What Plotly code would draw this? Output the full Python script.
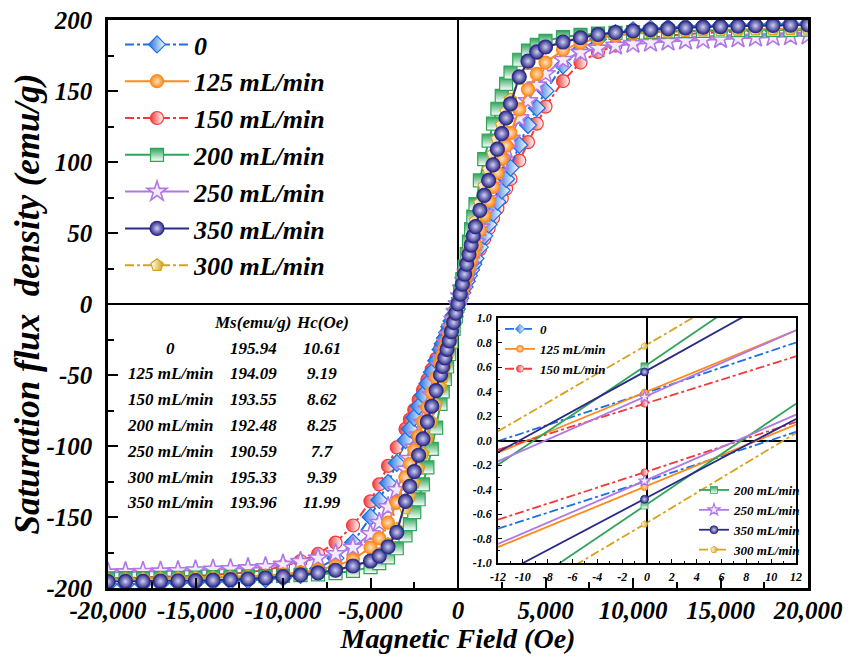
import plotly.graph_objects as go

# ---------------- data ----------------
FIELD_OE = [-20000, -19000, -18000, -17000, -16000, -15000, -14000, -13000, -12000, -11000,
            -10000, -9000, -8000, -7000, -6000, -5000, -4500, -4000, -3500, -3000,
            -2750, -2500, -2250, -2000, -1750, -1500, -1250, -1000, -875, -750,
            -625, -500, -375, -250, -125, 0, 125, 250, 375, 500,
            625, 750, 875, 1000, 1250, 1500, 1750, 2000, 2250, 2500,
            2750, 3000, 3500, 4000, 4500, 5000, 6000, 7000, 8000, 9000,
            10000, 11000, 12000, 13000, 14000, 15000, 16000, 17000, 18000, 19000, 20000]

M_0 = [-197.6, -197.4, -197.1, -196.8, -196.5, -196.1, -195.7, -195.2, -194.6, -193.8,
       -192.8, -190.8, -186.5, -179.0, -168.0, -150.0, -138.0, -126.0, -112.0, -96.0,
       -88.0, -80.0, -72.0, -64.0, -56.0, -48.0, -40.0, -32.0, -28.0, -24.0,
       -20.0, -16.0, -12.0, -8.0, -4.0, 0.0, 4.0, 8.0, 12.0, 16.0,
       20.0, 24.0, 28.0, 32.0, 40.0, 48.0, 56.0, 64.0, 72.0, 80.0,
       88.0, 96.0, 112.0, 126.0, 138.0, 150.0, 168.0, 179.0, 186.5, 190.8,
       192.8, 193.8, 194.6, 195.2, 195.7, 196.1, 196.5, 196.8, 197.1, 197.4, 197.6]

M_125 = [-194.0, -193.9, -193.7, -193.5, -193.3, -193.0, -192.7, -192.3, -191.8, -191.2,
         -190.3, -189.0, -187.2, -184.5, -180.0, -171.5, -165.0, -154.0, -140.0, -122.0,
         -112.5, -103.0, -93.0, -83.0, -72.8, -62.5, -52.0, -41.6, -36.4, -31.2,
         -26.0, -20.8, -15.6, -10.4, -5.2, 0.0, 5.2, 10.4, 15.6, 20.8,
         26.0, 31.2, 36.4, 41.6, 52.0, 62.3, 72.5, 82.5, 92.5, 102.2,
         111.5, 120.5, 137.0, 151.0, 162.0, 170.0, 179.0, 184.0, 187.0, 189.0,
         190.3, 191.2, 191.8, 192.3, 192.7, 193.0, 193.3, 193.5, 193.7, 193.9, 194.0]

M_150 = [-193.3, -193.0, -192.7, -192.3, -191.9, -191.4, -190.8, -190.0, -189.0, -187.3,
         -184.8, -181.0, -176.0, -168.0, -156.0, -139.0, -127.0, -114.0, -101.0, -88.0,
         -81.3, -74.5, -67.5, -60.5, -53.3, -46.0, -38.6, -31.2, -27.4, -23.6,
         -19.8, -16.0, -12.0, -8.0, -4.0, 0.0, 4.0, 8.0, 12.0, 16.0,
         19.8, 23.6, 27.4, 31.2, 38.6, 46.0, 53.3, 60.5, 67.5, 74.5,
         81.3, 88.0, 101.0, 114.0, 127.0, 139.0, 157.0, 170.0, 177.5, 182.0,
         185.0, 187.3, 189.0, 190.0, 190.8, 191.4, 191.9, 192.3, 192.7, 193.0, 193.3]

M_200 = [-193.2, -193.1, -193.0, -192.9, -192.8, -192.6, -192.4, -192.2, -192.0, -191.7,
         -191.4, -191.0, -190.4, -189.5, -188.0, -185.3, -182.5, -178.5, -172.0, -163.0,
         -155.0, -146.5, -137.5, -127.0, -115.0, -102.0, -87.0, -70.4, -61.6, -52.8,
         -44.0, -35.2, -26.4, -17.6, -8.8, 0.0, 8.8, 17.6, 26.4, 35.2,
         44.0, 52.8, 61.6, 70.4, 87.0, 102.0, 115.0, 127.0, 137.5, 146.5,
         155.0, 163.0, 172.0, 178.5, 182.5, 185.3, 188.0, 189.5, 190.4, 191.0,
         191.4, 191.7, 192.0, 192.2, 192.4, 192.6, 192.8, 192.9, 193.0, 193.1, 193.2]

M_250 = [-189.0, -188.8, -188.6, -188.3, -188.0, -187.5, -187.0, -186.6, -186.0, -185.2,
         -183.5, -181.5, -179.0, -176.0, -171.5, -162.0, -154.0, -143.0, -131.0, -116.5,
         -109.0, -101.0, -92.5, -83.5, -74.0, -64.0, -54.0, -43.5, -38.2, -32.8,
         -27.4, -22.0, -16.5, -11.0, -5.5, 0.0, 5.5, 11.0, 16.5, 22.0,
         27.4, 32.8, 38.2, 43.5, 54.0, 64.0, 74.0, 83.5, 92.5, 101.0,
         109.0, 116.5, 131.0, 143.0, 154.0, 162.0, 172.0, 177.0, 180.0, 182.0,
         183.2, 184.0, 184.8, 185.4, 186.0, 186.6, 187.1, 187.6, 188.1, 188.6, 189.0]

M_350 = [-195.5, -195.4, -195.3, -195.2, -195.0, -194.8, -194.5, -194.1, -193.6, -192.9,
         -192.0, -190.8, -189.3, -187.5, -184.5, -181.0, -177.5, -171.0, -160.8, -139.0,
         -128.5, -118.0, -106.5, -95.0, -83.0, -72.0, -61.0, -50.0, -44.0, -38.0,
         -32.0, -26.0, -19.5, -13.0, -6.5, 0.0, 7.0, 14.0, 21.0, 28.0,
         34.8, 41.5, 48.0, 54.5, 66.0, 76.5, 87.0, 98.0, 109.0, 120.0,
         131.0, 141.0, 160.0, 171.0, 177.5, 181.0, 184.5, 187.5, 189.8, 191.2,
         192.3, 193.2, 193.9, 194.5, 195.0, 195.4, 195.7, 196.0, 196.2, 196.4, 196.5]

M_300 = [-193.8, -193.6, -193.4, -193.2, -193.0, -192.8, -192.5, -192.2, -191.8, -191.3,
         -190.7, -190.0, -189.0, -187.5, -185.0, -180.5, -176.0, -169.0, -158.5, -144.0,
         -135.5, -126.0, -116.0, -105.5, -94.5, -83.0, -71.0, -58.5, -51.5, -44.4,
         -37.2, -30.0, -22.5, -15.0, -7.5, 0.0, 7.5, 15.0, 22.5, 30.0,
         37.2, 44.4, 51.5, 58.5, 71.0, 83.0, 94.5, 105.5, 116.0, 126.0,
         135.5, 144.0, 158.5, 169.0, 176.0, 180.5, 185.0, 187.5, 189.0, 190.0,
         190.7, 191.3, 191.8, 192.2, 192.5, 192.8, 193.0, 193.2, 193.4, 193.6, 193.8]

SERIES_NAMES = ["0", "125 mL/min", "150 mL/min", "200 mL/min",
                "250 mL/min", "350 mL/min", "300 mL/min"]

# inset (zoom near the origin): field in Oe; branch values at left end, marker, right end
INSET_H = [-12, -0.2, 12]
UP_0, LO_0 = [-0.005, 0.385, 0.80], [-0.72, -0.335, 0.07]
UP_125, LO_125 = [-0.10, 0.39, 0.90], [-0.87, -0.38, 0.13]
UP_150, LO_150 = [-0.075, 0.30, 0.687], [-0.646, -0.26, 0.151]
UP_200, LO_200 = [-0.197, 0.605, 1.445], [-1.34, -0.53, 0.30]
UP_250, LO_250 = [-0.17, 0.355, 0.90], [-0.845, -0.33, 0.211]
UP_350, LO_350 = [-0.095, 0.56, 1.25], [-1.108, -0.48, 0.176]
UP_300, LO_300 = [0.075, 0.77, 1.498], [-1.391, -0.683, 0.061]

# table
TABLE_HEAD = ["Ms(emu/g)", "Hc(Oe)"]
TABLE_LABELS = ["0", "125 mL/min", "150 mL/min", "200 mL/min", "250 mL/min", "300 mL/min", "350 mL/min"]
TABLE_MS = ["195.94", "194.09", "193.55", "192.48", "190.59", "195.33", "193.96"]
TABLE_HC = ["10.61", "9.19", "8.62", "8.25", "7.7", "9.39", "11.99"]

# ticks
X_TICK_VALS = [-20000, -15000, -10000, -5000, 0, 5000, 10000, 15000, 20000]
X_TICK_TEXT = ["-20,000", "-15,000", "-10,000", "-5,000", "0", "5,000", "10,000", "15,000", "20,000"]
Y_TICK_VALS = [-200, -150, -100, -50, 0, 50, 100, 150, 200]
Y_TICK_TEXT = ["-200", "-150", "-100", "-50", "0", "50", "100", "150", "200"]
IX_TICK_VALS = [-12, -10, -8, -6, -4, -2, 0, 2, 4, 6, 8, 10, 12]
IX_TICK_TEXT = ["-12", "-10", "-8", "-6", "-4", "-2", "0", "2", "4", "6", "8", "10", "12"]
IY_TICK_VALS = [-1.0, -0.8, -0.6, -0.4, -0.2, 0.0, 0.2, 0.4, 0.6, 0.8, 1.0]
IY_TICK_TEXT = ["-1.0", "-0.8", "-0.6", "-0.4", "-0.2", "0.0", "0.2", "0.4", "0.6", "0.8", "1.0"]

# ---------------- styles ----------------
BLUE, ORANGE, RED, GREEN = "#1f6fe0", "#ff8a1c", "#f03a3a", "#2ea65a"
PURPLE, NAVY, GOLD = "#b078e6", "#2c2a88", "#d6a21a"
SERIF = "Liberation Serif"


def bi(size, color="black"):
    return dict(family=SERIF, size=size, color=color, weight="bold", style="italic")


def marker_style(key, size):
    lw = 1.2 if size > 9 else 0.8
    if key == "0":
        return dict(symbol="diamond", size=size, color=BLUE,
                    gradient=dict(type="horizontal", color="white"), line=dict(color=BLUE, width=lw))
    if key == "125":
        return dict(symbol="circle", size=size, color=ORANGE,
                    gradient=dict(type="radial", color="#ffe2bd"), line=dict(color=ORANGE, width=lw))
    if key == "150":
        return dict(symbol="circle", size=size, color=RED,
                    gradient=dict(type="horizontal", color="white"), line=dict(color=RED, width=lw))
    if key == "200":
        return dict(symbol="square", size=size, color=GREEN,
                    gradient=dict(type="vertical", color="white"), line=dict(color=GREEN, width=lw))
    if key == "250":
        return dict(symbol="star", size=size + 2, color="#f3eafc", line=dict(color=PURPLE, width=lw + 0.4))
    if key == "350":
        return dict(symbol="circle", size=size + 1, color=NAVY,
                    gradient=dict(type="radial", color="#cfd0f2"), line=dict(color=NAVY, width=lw))
    return dict(symbol="pentagon", size=size, color="white",
                gradient=dict(type="horizontal", color=GOLD), line=dict(color=GOLD, width=lw))


SERIES = {
    "0": (M_0, BLUE, "dashdot", 1, UP_0, LO_0, "legend2"),
    "125": (M_125, ORANGE, "solid", 2, UP_125, LO_125, "legend2"),
    "150": (M_150, RED, "dashdot", 3, UP_150, LO_150, "legend2"),
    "200": (M_200, GREEN, "solid", 4, UP_200, LO_200, "legend3"),
    "250": (M_250, PURPLE, "solid", 5, UP_250, LO_250, "legend3"),
    "350": (M_350, NAVY, "solid", 6, UP_350, LO_350, "legend3"),
    "300": (M_300, GOLD, "dashdot", 7, UP_300, LO_300, "legend3"),
}
NAME_OF = dict(zip(["0", "125", "150", "200", "250", "350", "300"], SERIES_NAMES))
DRAW_ORDER = ["150", "0", "250", "125", "200", "300", "350"]

fig = go.Figure()

# main hysteresis loops
for key in DRAW_ORDER:
    m, col, dash, rank, up, lo, leg = SERIES[key]
    fig.add_trace(go.Scatter(
        x=FIELD_OE, y=m, mode="lines+markers", name=NAME_OF[key],
        line=dict(color=col, width=2, dash=dash),
        marker=marker_style(key, 13), legend="legend", legendrank=rank,
        xaxis="x", yaxis="y", cliponaxis=True))

# inset lines, markers and inset legend entries
for key in ["0", "125", "150", "200", "250", "350", "300"]:
    m, col, dash, rank, up, lo, leg = SERIES[key]
    fig.add_trace(go.Scatter(
        x=INSET_H + [None] + INSET_H, y=up + [None] + lo, mode="lines",
        line=dict(color=col, width=1.8, dash=dash), showlegend=False,
        xaxis="x2", yaxis="y2", hoverinfo="skip"))
    fig.add_trace(go.Scatter(
        x=[INSET_H[1], INSET_H[1]], y=[up[1], lo[1]], mode="markers",
        marker=marker_style(key, 7), showlegend=False, xaxis="x2", yaxis="y2"))
    fig.add_trace(go.Scatter(
        x=[None], y=[None], mode="lines+markers", name=NAME_OF[key],
        line=dict(color=col, width=1.8, dash=dash), marker=marker_style(key, 7),
        legend=leg, legendrank=rank, xaxis="x2", yaxis="y2"))

# ---------------- layout ----------------
# the page adds an 8 px body margin, so the figure is 16 px smaller than the window
OFF = 8
W, H = 840, 646
L, T = 100, 12            # plot area: page x 108..808, page y 20..588
PW, PH = 700, 568
R, B = W - L - PW, H - T - PH


def px_x(px):   # page pixel -> plot-area fraction
    return (px - OFF - L) / PW


def px_y(py):
    return (OFF + T + PH - py) / PH


axis_common = dict(showline=True, linecolor="black", mirror=True, showgrid=False,
                   zeroline=True, zerolinecolor="black", tickmode="array",
                   tickcolor="black", automargin=False, ticklabeloverflow="allow")

fig.update_layout(
    width=W, height=H, margin=dict(l=L, r=R, t=T, b=B),
    paper_bgcolor="white", plot_bgcolor="white",
    xaxis=dict(**axis_common, domain=[0, 1], range=[-20000, 20000],
               tickvals=X_TICK_VALS, ticktext=X_TICK_TEXT, ticks="inside", ticklen=10, tickwidth=2,
               linewidth=2.5, zerolinewidth=2,
               minor=dict(tick0=0, dtick=2500, ticks="inside", ticklen=6, tickwidth=2, tickcolor="black"),
               tickfont=bi(25), ticklabelstandoff=-2,
               title=dict(text="Magnetic Field (Oe)", font=bi(28), standoff=0)),
    yaxis=dict(**axis_common, domain=[0, 1], range=[-200, 200],
               tickvals=Y_TICK_VALS, ticktext=Y_TICK_TEXT, ticks="inside", ticklen=10, tickwidth=2,
               linewidth=2.5, zerolinewidth=2,
               minor=dict(tick0=0, dtick=25, ticks="inside", ticklen=6, tickwidth=2, tickcolor="black"),
               tickfont=bi(25), ticklabelstandoff=8,
               title=dict(text="Saturation flux  density (emu/g)", font=bi(35), standoff=0)),
    xaxis2=dict(**axis_common, domain=[px_x(498), px_x(796)], anchor="y2", range=[-12, 12],
                tickvals=IX_TICK_VALS, ticktext=IX_TICK_TEXT, ticks="inside", ticklen=4, tickwidth=1,
                linewidth=1.5, zerolinewidth=1.5,
                minor=dict(tick0=0, dtick=1, ticks="inside", ticklen=2, tickwidth=1, tickcolor="black"),
                tickfont=bi(12), ticklabelstandoff=2),
    yaxis2=dict(**axis_common, domain=[px_y(563), px_y(318)], anchor="x2", range=[-1, 1],
                tickvals=IY_TICK_VALS, ticktext=IY_TICK_TEXT, ticks="inside", ticklen=4, tickwidth=1,
                linewidth=1.5, zerolinewidth=1.5,
                minor=dict(tick0=0, dtick=0.1, ticks="inside", ticklen=2, tickwidth=1, tickcolor="black"),
                tickfont=bi(12), ticklabelstandoff=2),
    legend=dict(x=px_x(120), y=px_y(21), xanchor="left", yanchor="top", bgcolor="rgba(0,0,0,0)",
                font=bi(26), itemwidth=64, tracegroupgap=0),
    legend2=dict(x=px_x(500), y=px_y(314), xanchor="left", yanchor="top", bgcolor="rgba(0,0,0,0)",
                 font=bi(13), itemwidth=30, tracegroupgap=0),
    legend3=dict(x=px_x(694), y=px_y(475), xanchor="left", yanchor="top", bgcolor="rgba(0,0,0,0)",
                 font=bi(13), itemwidth=30, tracegroupgap=0),
    showlegend=True,
)

# table of Ms / Hc
annotations = []
for txt, cx in zip(TABLE_HEAD, [253, 322]):
    annotations.append(dict(text=txt, x=px_x(cx), y=px_y(322), xref="paper", yref="paper",
                            showarrow=False, xanchor="center", yanchor="middle", font=bi(17)))
for i, (lab, ms, hc) in enumerate(zip(TABLE_LABELS, TABLE_MS, TABLE_HC)):
    yy = px_y(348 + i * 25.8)
    for txt, cx in zip([lab, ms, hc], [170, 253, 322]):
        annotations.append(dict(text=txt, x=px_x(cx), y=yy, xref="paper", yref="paper",
                                showarrow=False, xanchor="center", yanchor="middle", font=bi(17)))
fig.update_layout(annotations=annotations)

fig.write_html("out.html")
